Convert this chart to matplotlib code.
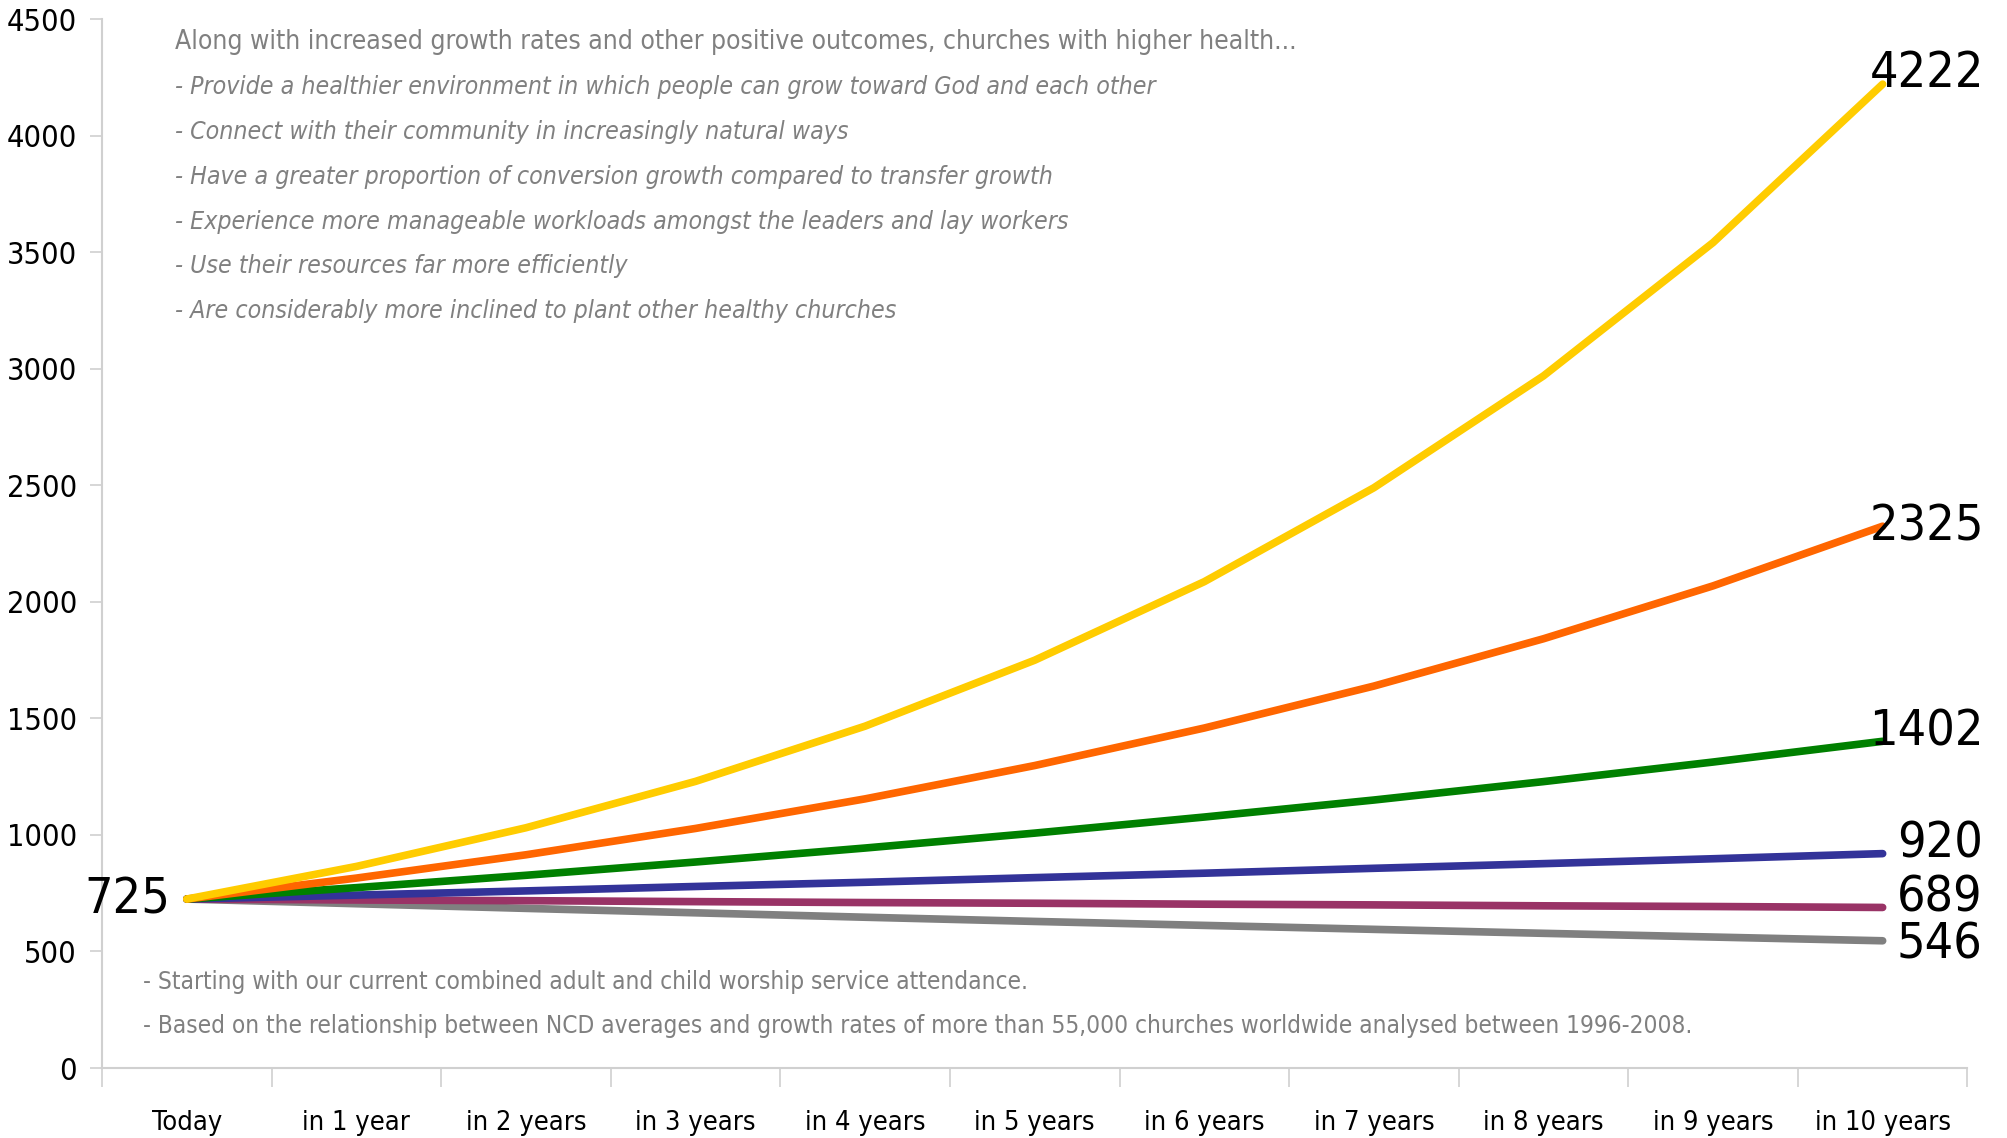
import numpy as np
import matplotlib
matplotlib.use("Agg")
import matplotlib.pyplot as plt

# narrow face of DejaVu, closest to the condensed font of the original
plt.rcParams['font.family'] = ['DejaVu Sans']
plt.rcParams['font.stretch'] = 'condensed'

# Data
periods = ["Today", "in 1 year", "in 2 years", "in 3 years", "in 4 years", "in 5 years",
           "in 6 years", "in 7 years", "in 8 years", "in 9 years", "in 10 years"]
yellow = [725, 865, 1031, 1230, 1467, 1750, 2087, 2490, 2970, 3542, 4222]
orange = [725, 815, 915, 1028, 1155, 1298, 1459, 1639, 1842, 2069, 2325]
green = [725, 774, 827, 884, 944, 1008, 1077, 1150, 1229, 1313, 1402]
blue = [725, 742, 760, 779, 797, 817, 836, 857, 877, 898, 920]
purple = [725, 721, 718, 714, 710, 707, 703, 700, 696, 693, 689]
grey = [725, 705, 685, 666, 647, 629, 612, 595, 578, 562, 546]

series = [
    (yellow, "#FFCC00"),
    (orange, "#FF6600"),
    (green, "#008000"),
    (blue, "#333399"),
    (purple, "#993366"),
    (grey, "#808080"),
]

top_note = "Along with increased growth rates and other positive outcomes, churches with higher health..."
bullets = [
    "- Provide a healthier environment in which people can grow toward God and each other",
    "- Connect with their community in increasingly natural ways",
    "- Have a greater proportion of conversion growth compared to transfer growth",
    "- Experience more manageable workloads amongst the leaders and lay workers",
    "- Use their resources far more efficiently",
    "- Are considerably more inclined to plant other healthy churches",
]
bottom_notes = [
    "- Starting with our current combined adult and child worship service attendance.",
    "- Based on the relationship between NCD averages and growth rates of more than 55,000 churches worldwide analysed between 1996-2008.",
]

fig = plt.figure(figsize=(20.08, 11.38), dpi=100)
ax = fig.add_axes([0.0508, 0.0615, 0.929, 0.9215])

x = np.arange(len(periods))
# draw bottom series first so yellow sits on top
for vals, col in reversed(series):
    ax.plot(x, vals, color=col, lw=5.5, solid_capstyle="round", solid_joinstyle="round")

# end labels
end_offsets = [8, 0, 7, 7, 7, -3]
for (vals, col), dy in zip(series, end_offsets):
    dx = 73 if vals[-1] >= 1000 else 72
    ax.annotate(str(vals[-1]), (x[-1], vals[-1]), xytext=(dx, dy), textcoords="offset points",
                ha="right", va="center", fontsize=36, color="black")
ax.annotate(str(yellow[0]), (x[0], yellow[0]), xytext=(-12, 0), textcoords="offset points",
            ha="right", va="center", fontsize=36, color="black")

ax.set_xlim(-0.5, len(periods) - 0.5)
ax.set_ylim(0, 4500)
ax.set_yticks(np.arange(0, 4501, 500))
ax.set_xticks(x)
ax.set_xticklabels(periods)
ax.set_xticks(np.arange(-0.5, len(periods), 1), minor=True)

for s in ["top", "right"]:
    ax.spines[s].set_visible(False)
for s in ["left", "bottom"]:
    ax.spines[s].set_color("#d0d0d0")
    ax.spines[s].set_linewidth(1.5)

ax.tick_params(axis="y", colors="#d0d0d0", length=9, width=1.2, labelsize=22, labelcolor="black", pad=9)
ax.tick_params(axis="x", which="major", length=0, labelsize=19.5, labelcolor="black", pad=30)
ax.tick_params(axis="x", which="minor", length=14, width=1.2, colors="#d0d0d0")

# annotation text
txt_col = "#808080"
ax.text(0.039, 0.978, top_note, transform=ax.transAxes, fontsize=19, color=txt_col, va="center")
for i, b in enumerate(bullets):
    ax.text(0.039, 0.978 - (i + 1) * 0.0427, b, transform=ax.transAxes, fontsize=17.8,
            color=txt_col, style="italic", va="center")
for i, b in enumerate(bottom_notes):
    ax.text(0.022, 0.082 - i * 0.042, b, transform=ax.transAxes, fontsize=17.5,
            color=txt_col, va="center")

fig.savefig("out.png", dpi=100)
